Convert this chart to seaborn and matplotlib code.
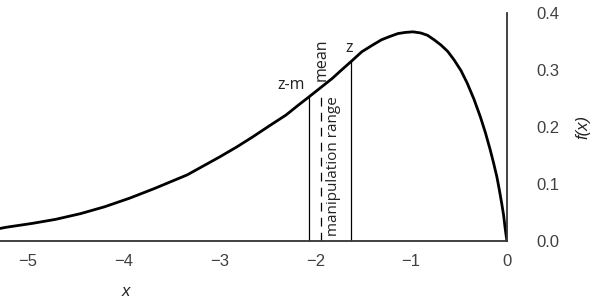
import matplotlib
matplotlib.use("Agg")
import matplotlib.pyplot as plt
import seaborn as sns
import pandas as pd

# Curve values
x_vals = [-5.29, -5.23, -4.95, -4.71, -4.45, -4.20, -3.94, -3.68, -3.337, -2.993,
          -2.82, -2.65, -2.48, -2.306, -2.18, -2.065, -1.945, -1.825, -1.72, -1.626,
          -1.515, -1.41, -1.31, -1.22, -1.137, -1.06, -0.98, -0.90, -0.83, -0.76,
          -0.69, -0.62, -0.553, -0.48, -0.415, -0.345, -0.278, -0.225, -0.175, -0.14,
          -0.106, -0.08, -0.055, -0.035, -0.021, -0.009, 0.0]
f_vals = [0.022, 0.024, 0.031, 0.038, 0.048, 0.060, 0.075, 0.092, 0.116, 0.148,
          0.165, 0.183, 0.202, 0.221, 0.238, 0.253, 0.269, 0.285, 0.301, 0.315,
          0.332, 0.343, 0.353, 0.359, 0.364, 0.366, 0.367, 0.365, 0.361, 0.353,
          0.344, 0.333, 0.318, 0.299, 0.277, 0.249, 0.218, 0.190, 0.160, 0.137,
          0.113, 0.090, 0.066, 0.045, 0.025, 0.010, 0.0]

# Marker positions
z_minus_m = -2.065
mean_val = -1.945
z_val = -1.626

x_ticks = [-5, -4, -3, -2, -1, 0]
x_tick_labels = ["\u22125", "\u22124", "\u22123", "\u22122", "\u22121", "0"]
y_ticks = [0.0, 0.1, 0.2, 0.3, 0.4]
y_tick_labels = ["0.0", "0.1", "0.2", "0.3", "0.4"]

sns.set_theme(style="white")
plt.rcParams['font.family'] = ['Liberation Sans', 'DejaVu Sans']

df = pd.DataFrame({"x": x_vals, "f": f_vals})

fig = plt.figure(figsize=(5.94, 3.05), dpi=100)
ax = fig.add_axes([0.0, 0.2098, 0.8535, 0.7475])
sns.lineplot(data=df, x="x", y="f", ax=ax, color="black", linewidth=2.0)
ax.lines[0].set_solid_joinstyle("round")

ax.set_xlim(-5.29, 0.0)
ax.set_ylim(0.0, 0.4)

def f_at(xv):
    i = min(range(len(x_vals)), key=lambda k: abs(x_vals[k] - xv))
    return f_vals[i]

ax.plot([z_minus_m, z_minus_m], [0, f_at(z_minus_m)], color="black", lw=0.9)
ax.plot([z_val, z_val], [0, f_at(z_val)], color="black", lw=0.9)
ax.plot([mean_val, mean_val], [0, f_at(mean_val) - 0.005], color="black", lw=0.9,
        dashes=(7, 5))

lab_font = ['Open Sans', 'DejaVu Sans']
ax.text(z_minus_m - 0.04, f_at(z_minus_m) + 0.006, "z-m", ha="right", va="bottom",
        fontsize=11.5, family=lab_font, color="#222222")
ax.text(z_val - 0.02, f_at(z_val) + 0.01, "z", ha="center", va="bottom",
        fontsize=11.5, family=lab_font, color="#222222")
ax.text(mean_val + 0.01, f_at(mean_val) + 0.012, "mean", ha="center", va="bottom",
        rotation=90, fontsize=11.5, family=lab_font, color="#222222")
ax.text(mean_val + 0.13, 0.008, "manipulation range", ha="center", va="bottom",
        rotation=90, fontsize=11, family=lab_font, color="#222222")

ax.set_xticks(x_ticks)
ax.set_xticklabels(x_tick_labels)
ax.set_yticks(y_ticks)
ax.set_yticklabels(y_tick_labels)
ax.yaxis.tick_right()
ax.yaxis.set_label_position("right")
ax.tick_params(axis="both", length=0, labelsize=12, colors="#404040")
ax.tick_params(axis="y", pad=21)
ax.tick_params(axis="x", pad=9)

for s in ["top", "left"]:
    ax.spines[s].set_visible(False)
for s in ["bottom", "right"]:
    ax.spines[s].set_visible(True)
    ax.spines[s].set_color("#333333")
    ax.spines[s].set_linewidth(1.3)

ax.set_xlabel("x", fontsize=12, style="italic", color="#222222")
ax.xaxis.set_label_coords(0.249, -0.19)
ax.set_ylabel("f(x)", fontsize=12, style="italic", color="#222222", labelpad=12)

fig.savefig("out.png", dpi=100, facecolor="white")
